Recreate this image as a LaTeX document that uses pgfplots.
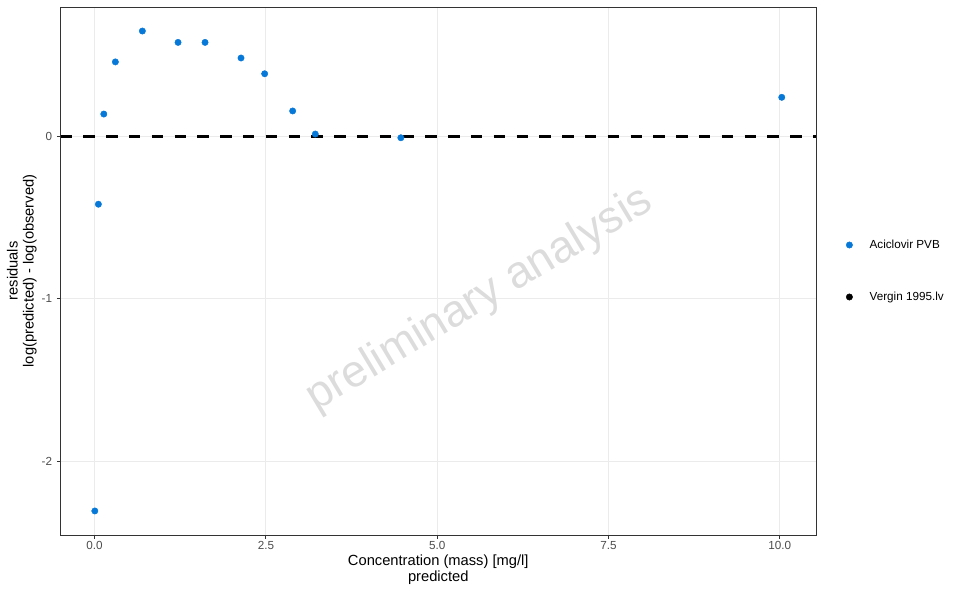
\documentclass[border=0pt]{standalone}
\usepackage{pgfplots}
\pgfplotsset{compat=1.18}
\usepackage{fontspec}
\setmainfont{Liberation Sans}
\definecolor{ptblue}{RGB}{6,120,216}
\definecolor{gridc}{RGB}{235,235,235}
\definecolor{bordc}{RGB}{51,51,51}
\definecolor{tickc}{RGB}{77,77,77}
\definecolor{wmark}{RGB}{220,220,220}
\begin{document}
\begin{tikzpicture}
\useasboundingbox (-60.5pt,-58pt) rectangle (899.5pt,535pt);
\begin{axis}[
  scale only axis,
  width=755.5pt, height=528pt,
  xmin=-0.498, xmax=10.53,
  ymin=-2.454, ymax=0.796,
  xtick={0,2.5,5,7.5,10},
  ytick={-2,-1,0},
  xtick pos=bottom, ytick pos=left,
  xticklabel style={/pgf/number format/fixed, /pgf/number format/precision=1, /pgf/number format/fixed zerofill},
  /pgf/number format/assume math mode=true,
  tick align=outside,
  major tick length=3.67pt,
  tick style={color=bordc, line width=0.9pt},
  axis line style={color=bordc, line width=0.9pt},
  grid=major,
  major grid style={color=gridc, line width=1.07pt},
  every tick label/.append style={font=\fontsize{11.7}{13}\selectfont, text=tickc},
  xticklabel style={inner sep=0pt, yshift=-2.9pt},
  yticklabel style={inner sep=0pt, xshift=-4.5pt},
  xlabel={Concentration (mass) [mg/l]\\predicted},
  ylabel={residuals\\log(predicted) - log(observed)},
  xlabel style={at={(axis description cs:0.5,0)}, anchor=north, inner sep=0pt, yshift=-20pt, align=center, font=\fontsize{14.7}{16}\selectfont},
  ylabel style={at={(axis description cs:0,0.5)}, anchor=south, inner sep=0pt, yshift=23.5pt, align=center, font=\fontsize{14.7}{16}\selectfont},
  legend style={at={(axis description cs:1,0.5)}, anchor=west, xshift=25pt, draw=none, fill=none, font=\fontsize{11.7}{13}\selectfont, row sep=38pt, inner sep=0pt, nodes={inner sep=2pt}},
  legend cell align=left,
  legend image code/.code={\draw[#1] plot coordinates {(0pt,0pt)}; \path (-8pt,0pt) (18pt,0pt);},
  clip=false,
]
\addplot[black, line width=2.8pt, dash pattern=on 11.4pt off 11.4pt, forget plot] coordinates {(-0.498,0) (10.53,0)};
\node[rotate=31, text=wmark, font=\fontsize{45}{50}\selectfont] at (axis cs:5.62,-1.007) {preliminary analysis};
\addplot[only marks, mark=*, mark size=3.2pt, color=ptblue, mark options={draw=ptblue, fill=ptblue}] coordinates {
(0.003,-2.306)
(0.055,-0.418)
(0.134,0.137)
(0.303,0.458)
(0.697,0.648)
(1.218,0.578)
(1.612,0.578)
(2.137,0.482)
(2.482,0.385)
(2.891,0.156)
(3.221,0.014)
(4.470,-0.009)
(10.03,0.240)
};
\addlegendentry{Aciclovir PVB}
\addlegendimage{only marks, mark=*, mark size=3.2pt, black}
\addlegendentry{Vergin 1995.lv}
\end{axis}
\end{tikzpicture}
\end{document}
